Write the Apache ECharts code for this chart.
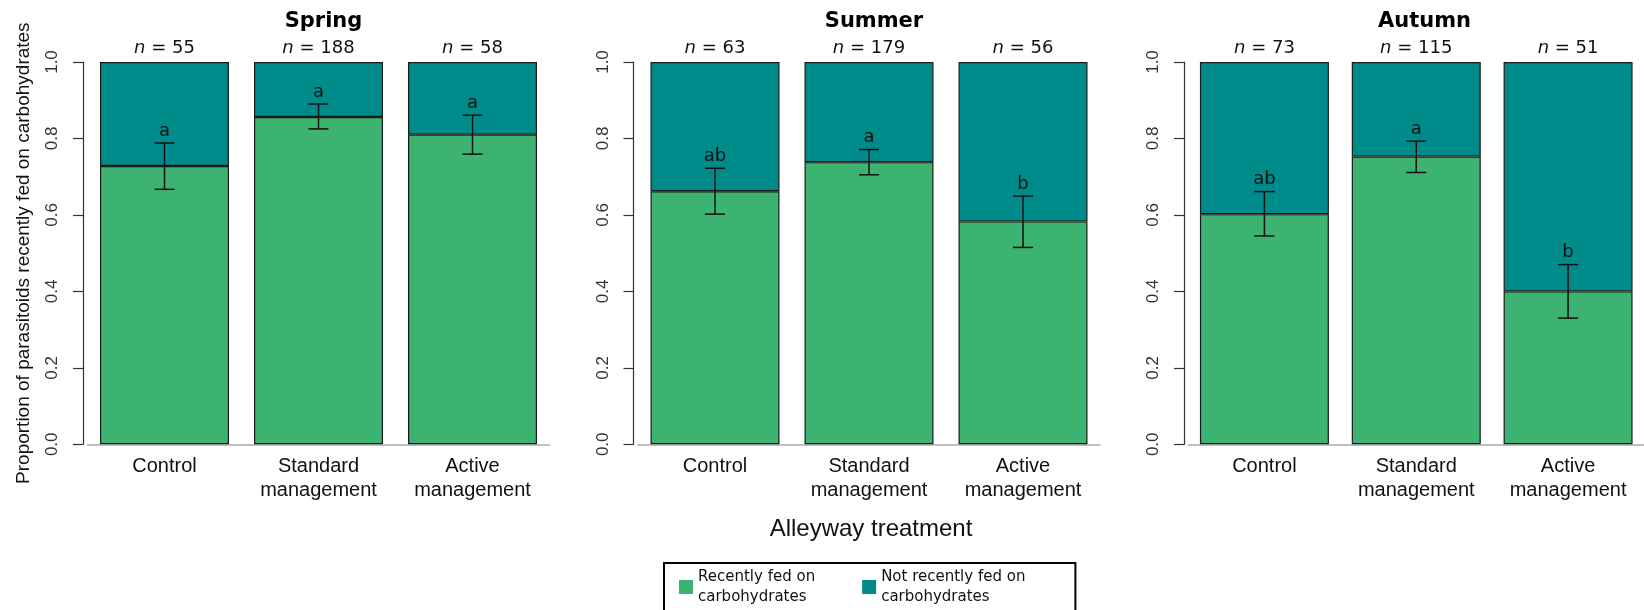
<!DOCTYPE html>
<html>
<head>
<meta charset="utf-8">
<script src="https://cdn.jsdelivr.net/npm/echarts@6/dist/echarts.min.js"></script>
<style>
  html, body { margin: 0; padding: 0; background: #fff; }
  #chart { width: 1644px; height: 610px; }
</style>
</head>
<body>
<div id="chart"></div>
<script>
// data
const seasons = ["Spring", "Summer", "Autumn"];
const treatments = ["Control", "Standard\nmanagement", "Active\nmanagement"];
const yTicks = [0, 0.2, 0.4, 0.6, 0.8, 1.0];

const springN = [55, 188, 58];
const springFed = [0.728, 0.856, 0.810];
const springLow = [0.667, 0.825, 0.759];
const springHigh = [0.788, 0.890, 0.861];
const springLetters = ["a", "a", "a"];

const summerN = [63, 179, 56];
const summerFed = [0.662, 0.738, 0.583];
const summerLow = [0.602, 0.705, 0.515];
const summerHigh = [0.722, 0.771, 0.649];
const summerLetters = ["ab", "a", "b"];

const autumnN = [73, 115, 51];
const autumnFed = [0.602, 0.753, 0.400];
const autumnLow = [0.545, 0.711, 0.330];
const autumnHigh = [0.661, 0.793, 0.470];
const autumnLetters = ["ab", "a", "b"];

const FED = "Recently fed on\ncarbohydrates";
const NOTFED = "Not recently fed on\ncarbohydrates";
const green = "#3cb371";
const teal = "#008b8b";

const panels = [
  { n: springN, fed: springFed, low: springLow, high: springHigh, letters: springLetters },
  { n: summerN, fed: summerFed, low: summerLow, high: summerHigh, letters: summerLetters },
  { n: autumnN, fed: autumnFed, low: autumnLow, high: autumnHigh, letters: autumnLetters }
];

const gridLefts = [87.5, 638, 1188.5];
const sansR = "Liberation Sans";
const sansD = "DejaVu Sans";

const chart = echarts.init(document.getElementById("chart"));

const grid = [], xAxis = [], yAxis = [], series = [], title = [];

panels.forEach((p, i) => {
  grid.push({ left: gridLefts[i], top: 62, width: 462, height: 382.3 });

  title.push({
    text: seasons[i],
    left: gridLefts[i] + 231,
    top: 6,
    textAlign: "center",
    textStyle: { fontFamily: sansD, fontWeight: "bold", fontSize: 21, color: "#000" }
  });

  // bottom: treatment names
  xAxis.push({
    type: "category",
    gridIndex: i,
    data: treatments,
    axisLine: { lineStyle: { color: "#aaa", width: 1.5 } },
    axisTick: { show: false },
    axisLabel: { fontFamily: sansR, fontSize: 20, color: "#111", lineHeight: 24, margin: 10, interval: 0 }
  });
  // top: sample sizes
  xAxis.push({
    type: "category",
    gridIndex: i,
    position: "top",
    data: p.n.map(v => "{i|n} = " + v),
    axisLine: { show: false },
    axisTick: { show: false },
    axisLabel: {
      fontFamily: sansD, fontSize: 18, color: "#111", margin: 5, interval: 0,
      rich: { i: { fontStyle: "italic", fontFamily: sansD, fontSize: 18, color: "#111" } }
    }
  });

  yAxis.push({
    type: "value",
    gridIndex: i,
    min: 0, max: 1, interval: 0.2,
    offset: 4.5,
    name: i === 0 ? "Proportion of parasitoids recently fed on carbohydrates" : "",
    nameLocation: "middle",
    nameRotate: 90,
    nameGap: 50,
    nameTextStyle: { fontFamily: sansR, fontSize: 19, color: "#111" },
    axisLine: { show: true, lineStyle: { color: "#333", width: 1.2 } },
    axisTick: { show: true, length: 10, lineStyle: { color: "#333", width: 1.2 } },
    splitLine: { show: false },
    axisLabel: {
      rotate: 90, margin: 22, fontFamily: sansR, fontSize: 17, color: "#333",
      formatter: v => yTicks.includes(Math.round(v * 10) / 10) ? v.toFixed(1) : ""
    }
  });

  const border = { borderColor: "#1a1a1a", borderWidth: 1.2 };
  series.push({
    name: FED, type: "bar", stack: "s" + i,
    xAxisIndex: 2 * i, yAxisIndex: i,
    barWidth: 129,
    itemStyle: Object.assign({ color: green }, border),
    data: p.fed
  });
  series.push({
    name: NOTFED, type: "bar", stack: "s" + i,
    xAxisIndex: 2 * i, yAxisIndex: i,
    barWidth: 129,
    itemStyle: Object.assign({ color: teal }, border),
    data: p.fed.map(v => 1 - v)
  });
  series.push({
    type: "custom",
    xAxisIndex: 2 * i, yAxisIndex: i,
    z: 10,
    data: p.fed.map((v, k) => [k, p.low[k], p.high[k], p.letters[k]]),
    renderItem: (params, api) => {
      const idx = api.value(0);
      const lo = api.coord([idx, api.value(1)]);
      const hi = api.coord([idx, api.value(2)]);
      const cap = 10;
      const st = { stroke: "#111", lineWidth: 1.5 };
      return {
        type: "group",
        children: [
          { type: "line", shape: { x1: lo[0], y1: lo[1], x2: hi[0], y2: hi[1] }, style: st },
          { type: "line", shape: { x1: lo[0] - cap, y1: lo[1], x2: lo[0] + cap, y2: lo[1] }, style: st },
          { type: "line", shape: { x1: hi[0] - cap, y1: hi[1], x2: hi[0] + cap, y2: hi[1] }, style: st },
          {
            type: "text",
            style: {
              text: p.letters[idx], x: hi[0], y: hi[1] - 3,
              align: "center", verticalAlign: "bottom",
              font: "18px '" + sansD + "'", fill: "#111"
            }
          }
        ]
      };
    }
  });
});

title.push({
  text: "Alleyway treatment",
  left: 866,
  top: 512,
  textAlign: "center",
  textStyle: { fontFamily: sansR, fontWeight: "normal", fontSize: 24, color: "#111" }
});

chart.setOption({
  animation: false,
  title: title,
  grid: grid,
  xAxis: xAxis,
  yAxis: yAxis,
  legend: {
    data: [FED, NOTFED],
    left: 664,
    top: 563,
    orient: "horizontal",
    icon: "rect",
    itemWidth: 14,
    itemHeight: 14,
    itemGap: 47,
    padding: [4, 50, 12, 15],
    borderColor: "#000",
    borderWidth: 2,
    itemStyle: { borderWidth: 0 },
    textStyle: { fontFamily: sansD, fontSize: 15, lineHeight: 20, color: "#111" }
  },
  series: series
});
</script>
</body>
</html>
